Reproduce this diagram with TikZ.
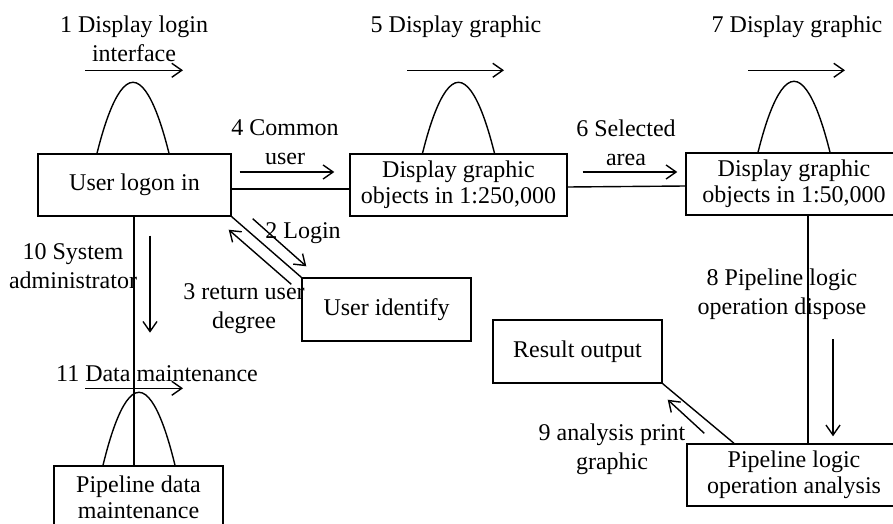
\documentclass[tikz,border=0pt]{standalone}
\usepackage{fontspec}
\setmainfont{Liberation Serif}
\usepackage{tikz}
\usetikzlibrary{arrows.meta}

\tikzset{
  box/.style={draw, line width=0.7pt, align=center, inner sep=0pt,
    minimum height=31pt, font=\fontsize{12}{12.8}\selectfont},
  lbl/.style={align=center, inner sep=0pt, anchor=north,
    font=\fontsize{12}{14.5}\selectfont},
  msg/.style={line width=0.7pt, -{Straight Barb[length=5pt,width=7pt,line width=0.7pt]}},
  link/.style={line width=0.7pt},
  pics/hump/.style={code={
    \draw[link] (-18pt,0pt) parabola bend (0pt,#1) (18pt,0pt);}},
  pics/hump/.default=35.5pt
}

\begin{document}
\begin{tikzpicture}[x=0.5pt, y=-0.5pt]
    \useasboundingbox (0,0) rectangle (893,524);
    \clip (0,0) rectangle (893,524);

    % objects
    \node[box, minimum width=96.5pt] (login) at (134.5,185) {User logon in};
    \node[box, minimum width=108.5pt] (coarse) at (458.5,185) {Display graphic\\objects in 1:250,000};
    \node[box, minimum width=108pt] (fine) at (794,184) {Display graphic\\objects in 1:50,000};
    \node[box, minimum width=84.5pt, minimum height=31.5pt] (identify) at (386.5,309.5) {User identify};
    \node[box, minimum width=84.5pt, minimum height=31.5pt] (result) at (577.5,351.5) {Result output};
    \node[box, minimum width=107pt] (analysis) at (794,475) {Pipeline logic\\operation analysis};
    \node[box, minimum width=84.5pt] (datamaint) at (138.5,497) {Pipeline data\\maintenance};

    % links
    \draw[link] ([yshift=-2pt]login.east) -- ([yshift=-2pt]coarse.west);
    \draw[link] ([yshift=-1pt]coarse.east) -- ([yshift=-1pt]fine.west);
    \draw[link] (login.south east) -- (identify.north west);
    \draw[link] ([xshift=-0.25pt]login.south) -- ([xshift=-0.25pt]login.south |- datamaint.north);
    \draw[link] ([xshift=7pt]fine.south) -- ([xshift=7pt]analysis.north);
    \draw[link] (result.south east) -- ([xshift=-30pt]analysis.north);

    % self links
    \pic at ([xshift=-0.75pt]login.north) {hump};
    \pic at (coarse.north) {hump};
    \pic at (fine.north) {hump};
    \pic at ([xshift=0.25pt]datamaint.north) {hump=36.5pt};

    % messages
    \draw[msg] ([xshift=-24.75pt,yshift=41.5pt]login.north) -- ++(98,0);
    \draw[msg] ([xshift=-25.75pt,yshift=41.5pt]coarse.north) -- ++(97,0);
    \draw[msg] ([xshift=-23pt,yshift=41pt]fine.north) -- ++(97,0);
    \draw[msg] ([xshift=4pt,yshift=6.5pt]login.east) -- ([xshift=-7.5pt,yshift=6.5pt]coarse.west);
    \draw[msg] ([xshift=7.5pt,yshift=6.5pt]coarse.east) -- ([xshift=-4pt,yshift=6pt]fine.west);
    \draw[msg] ([xshift=10.5pt,yshift=-1pt]login.south east) -- ([xshift=2.5pt,yshift=5.5pt]identify.north west);
    \draw[msg] ([xshift=-5pt,yshift=-3.5pt]identify.north west) -- ([xshift=-1.5pt,yshift=-6.5pt]login.south east);
    \draw[msg] ([xshift=7.75pt,yshift=-9.5pt]login.south) -- ([xshift=7.75pt,yshift=-58pt]login.south);
    \draw[msg] ([xshift=-26.75pt,yshift=38.5pt]datamaint.north) -- ++(98,0);
    \draw[msg] ([xshift=19.5pt,yshift=52pt]analysis.north) -- ([xshift=19.5pt,yshift=3.5pt]analysis.north);
    \draw[msg] ([xshift=9pt,yshift=5pt]analysis.north west) -- ([xshift=2.5pt,yshift=-8pt]result.south east);

    % message labels
    \node[lbl] (msg1) at (134,15) {1 Display login\\interface};
    \node[lbl] (msg2) at (303,222) {2 Login};
    \node[lbl] (msg3) at (244,283) {3 return user\\degree};
    \node[lbl] (msg4) at (285,119) {4 Common\\user};
    \node[lbl] (msg5) at (456,15) {5 Display graphic};
    \node[lbl] (msg6) at (626,119) {6 Selected\\area};
    \node[lbl] (msg7) at (797,15) {7 Display graphic};
    \node[lbl] (msg8) at (782,268) {8 Pipeline logic\\operation dispose};
    \node[lbl] (msg9) at (612,423) {9 analysis print\\graphic};
    \node[lbl] (msg10) at (73,243) {10 System\\administrator};
    \node[lbl] (msg11) at (157,365) {11 Data maintenance};
\end{tikzpicture}
\end{document}
